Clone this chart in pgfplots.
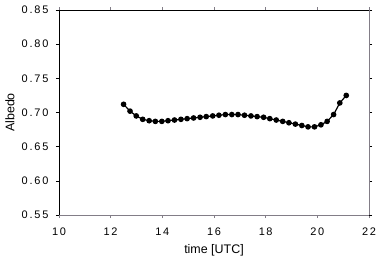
\documentclass[border=0pt]{standalone}
\usepackage{pgfplots}
\pgfplotsset{compat=1.18}
\usepackage{fontspec}
\setmainfont{Liberation Sans}
\newfontfamily\tickfont[LetterSpace=15]{Liberation Sans}
\newfontfamily\ytickfont[LetterSpace=17]{Liberation Sans}
\definecolor{axgray}{RGB}{130,125,135}
\begin{document}
\begin{tikzpicture}
\begin{axis}[
  at={(0,0)}, anchor=south west,
  scale only axis, width=310bp, height=205bp,
  xmin=10, xmax=22, ymin=0.55, ymax=0.85,
  xtick={10,12,...,22}, ytick={0.55,0.60,...,0.86},
  axis line style={draw=none},
  tick align=outside, major tick length=3bp,
  tick style={black, line width=0.6pt},
  xtick style={axgray},
  xticklabel style={font=\tickfont\fontsize{11}{13}\selectfont, yshift=-6bp, /pgf/number format/.cd, fixed},
  yticklabel style={font=\ytickfont\fontsize{11}{13}\selectfont, xshift=-4bp, /pgf/number format/.cd, fixed, fixed zerofill, precision=2},
  /pgf/number format/assume math mode=true,
  xlabel={time [UTC]}, ylabel={Albedo},
  label style={font=\fontsize{12.5}{14}\selectfont},
  xlabel style={at={(rel axis cs:0.5,0)}, anchor=center, yshift=-35bp},
  ylabel style={at={(rel axis cs:0,0.5)}, anchor=center, yshift=49bp},
  clip=false,
]
\draw[axgray, line width=0.8pt] (rel axis cs:0,0) -- (rel axis cs:1,0);
\draw[axgray, line width=0.8pt] (rel axis cs:1,0) -- (rel axis cs:1,1);
\draw[black, line width=0.8pt] (rel axis cs:0,0) -- (rel axis cs:0,1);
\draw[black, line width=0.8pt] ([xshift=-3bp]rel axis cs:0,1) -- (rel axis cs:1,1);
\addplot[black, line width=1.2pt, mark=*, mark size=2.2bp] coordinates {
(12.50,0.712) (12.75,0.702) (12.99,0.695) (13.24,0.690) (13.49,0.688)
(13.73,0.687) (13.98,0.687) (14.22,0.688) (14.47,0.689) (14.72,0.690)
(14.96,0.691) (15.21,0.692) (15.46,0.693) (15.70,0.694) (15.95,0.695)
(16.19,0.696) (16.44,0.697) (16.69,0.697) (16.93,0.697) (17.18,0.696)
(17.43,0.695) (17.67,0.694) (17.92,0.693) (18.16,0.691) (18.41,0.689)
(18.66,0.687) (18.90,0.685) (19.15,0.683) (19.40,0.681) (19.64,0.679)
(19.89,0.679) (20.14,0.682) (20.38,0.687) (20.63,0.697) (20.87,0.714)
(21.12,0.725)
};
\end{axis}
\pgfresetboundingbox
\useasboundingbox (-59bp,-50bp) rectangle (332bp,215bp);
\end{tikzpicture}
\end{document}
